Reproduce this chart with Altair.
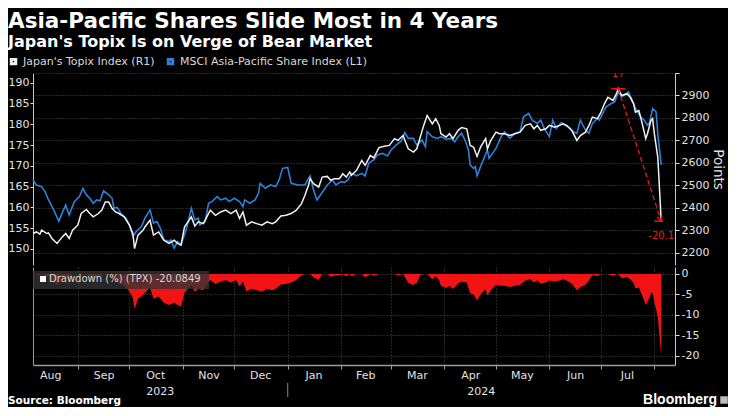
import altair as alt
import pandas as pd

# ---------------- data ----------------
BASE = pd.Timestamp("2023-08-01")          # day offsets below count from this date

# Japan's Topix Index (right axis, points)
tpx_day = [5, 7, 9, 10, 13, 14, 16, 19, 22, 24,
           26, 28, 31, 33, 36, 38, 40, 43, 45, 47,
           49, 51, 53, 55, 58, 61, 63, 64, 66, 69,
           70, 73, 75, 78, 81, 84, 87, 89, 91, 93,
           97, 99, 101, 104, 106, 108, 111, 114, 117, 120,
           123, 125, 127, 129, 132, 135, 138, 141, 144, 146,
           149, 152, 155, 158, 161, 163, 165, 166, 168, 171,
           173, 176, 178, 180, 183, 185, 187, 189, 190, 193,
           196, 198, 201, 203, 206, 209, 212, 215, 217, 220,
           223, 226, 228, 230, 232, 234, 237, 239, 241, 242,
           245, 247, 249, 252, 254, 257, 259, 261, 263, 265,
           268, 269, 271, 274, 276, 279, 282, 285, 288, 291,
           294, 296, 298, 300, 303, 305, 308, 311, 313, 315,
           318, 321, 323, 326, 328, 330, 333, 335, 337, 339,
           342, 344, 345, 347, 350, 352, 354, 355, 357, 359,
           361, 362, 364, 365, 366, 368, 370]
tpx_val = [2286, 2293, 2283, 2301, 2286, 2289, 2264, 2242, 2271, 2286,
           2264, 2301, 2323, 2375, 2393, 2375, 2360, 2375, 2390, 2426,
           2426, 2397, 2382, 2375, 2360, 2323, 2286, 2219, 2279, 2301,
           2315, 2345, 2279, 2293, 2256, 2242, 2256, 2242, 2234, 2315,
           2360, 2319, 2338, 2330, 2360, 2390, 2367, 2382, 2390, 2375,
           2390, 2353, 2382, 2323, 2338, 2330, 2323, 2338, 2330, 2338,
           2364, 2367, 2375, 2390, 2419, 2456, 2500, 2530, 2508, 2493,
           2537, 2540, 2523, 2530, 2530, 2552, 2537, 2560, 2545, 2567,
           2611, 2589, 2634, 2623, 2668, 2674, 2678, 2708, 2700, 2722,
           2663, 2648, 2663, 2715, 2767, 2811, 2774, 2797, 2767, 2730,
           2715, 2730, 2708, 2745, 2757, 2752, 2678, 2670, 2629, 2670,
           2708, 2663, 2700, 2737, 2730, 2730, 2722, 2730, 2737, 2767,
           2774, 2752, 2767, 2745, 2752, 2767, 2759, 2767, 2774, 2767,
           2745, 2700, 2722, 2737, 2767, 2804, 2797, 2826, 2863, 2892,
           2878, 2908, 2930, 2900, 2908, 2892, 2863, 2826, 2833, 2774,
           2708, 2730, 2789, 2797, 2730, 2626, 2341]

# MSCI Asia-Pacific Share Index (left axis)
msci_day = [5, 7, 10, 12, 14, 15, 17, 20, 22, 24,
            26, 29, 32, 34, 36, 38, 40, 42, 44, 46,
            49, 51, 52, 54, 56, 59, 61, 63, 65, 68,
            70, 73, 75, 77, 79, 81, 84, 85, 87, 89,
            91, 94, 97, 99, 101, 102, 105, 107, 109, 112,
            114, 117, 119, 122, 125, 127, 128, 131, 134, 136,
            137, 140, 143, 146, 148, 150, 153, 155, 159, 163,
            165, 166, 168, 170, 172, 174, 176, 179, 181, 184,
            186, 188, 190, 193, 196, 198, 200, 203, 205, 208,
            211, 213, 216, 219, 221, 223, 226, 228, 231, 233,
            234, 237, 240, 242, 245, 248, 250, 252, 254, 256,
            258, 259, 261, 262, 263, 265, 267, 269, 270, 272,
            274, 277, 279, 282, 285, 288, 290, 293, 295, 298,
            300, 302, 305, 307, 309, 312, 314, 316, 319, 321,
            323, 326, 328, 330, 333, 334, 336, 338, 341, 343,
            345, 347, 349, 351, 353, 355, 358, 360, 362, 363,
            364, 365, 367, 368, 370]
msci_val = [166.6, 165.4, 165.0, 163.8, 161.8, 161.1, 159.4, 156.7, 158.7, 160.6,
            158.2, 161.4, 162.6, 164.6, 163.0, 162.2, 161.0, 161.8, 161.6, 164.0,
            163.0, 162.2, 159.8, 160.0, 158.6, 157.4, 155.8, 153.0, 154.2, 155.4,
            157.4, 159.4, 156.2, 156.6, 155.0, 152.2, 151.8, 152.2, 150.2, 151.8,
            151.0, 154.6, 159.8, 157.0, 157.4, 155.8, 156.6, 161.0, 161.4, 162.6,
            161.8, 162.2, 161.4, 162.2, 161.4, 160.2, 161.8, 161.0, 161.8, 163.4,
            165.8, 164.6, 165.4, 165.0, 166.6, 169.4, 169.6, 165.8, 165.4, 165.4,
            167.0, 167.6, 164.2, 161.8, 163.0, 164.2, 165.4, 166.6, 165.4, 166.2,
            166.0, 166.6, 168.2, 167.6, 168.2, 167.6, 170.6, 171.4, 172.6, 173.0,
            172.4, 173.8, 175.0, 176.0, 178.0, 176.6, 176.6, 175.0, 176.2, 174.6,
            178.2, 177.0, 176.6, 177.0, 176.4, 176.6, 175.8, 177.0, 177.8, 176.2,
            173.8, 170.2, 169.4, 169.8, 167.6, 169.8, 171.8, 173.8, 171.8, 173.0,
            174.2, 177.0, 178.2, 176.6, 177.8, 178.2, 181.8, 182.6, 181.0, 180.2,
            181.0, 179.0, 177.0, 181.0, 179.0, 180.4, 179.8, 179.4, 178.2, 177.8,
            181.0, 178.6, 177.8, 180.2, 181.4, 181.0, 182.6, 184.2, 185.0, 185.4,
            187.8, 186.6, 187.0, 187.8, 185.8, 183.8, 181.8, 181.0, 179.8, 180.2,
            181.8, 183.8, 183.0, 177.8, 170.2]

TPX_NAME = "Japan's Topix Index (R1)"
MSCI_NAME = "MSCI Asia-Pacific Share Index (L1)"
DD_LABEL = "Drawdown (%) (TPX) -20.0849"
PEAK_LABEL = "17"

month_starts = ["2023-09-01", "2023-10-01", "2023-11-01", "2023-12-01", "2024-01-01",
                "2024-02-01", "2024-03-01", "2024-04-01", "2024-05-01", "2024-06-01",
                "2024-07-01", "2024-08-01"]
month_mids = ["2023-08-16", "2023-09-16", "2023-10-16", "2023-11-16", "2023-12-16",
              "2024-01-16", "2024-02-15", "2024-03-16", "2024-04-16", "2024-05-16",
              "2024-06-16", "2024-07-16"]
years = ["2023", "2024"]
left_ticks = [150, 155, 160, 165, 170, 175, 180, 185, 190]
right_ticks = [2200, 2300, 2400, 2500, 2600, 2700, 2800, 2900, 3000]
dd_ticks = [0, -5, -10, -15, -20]

X0, X1 = pd.Timestamp("2023-08-06"), pd.Timestamp("2024-08-13")
YEAR_BREAK = pd.Timestamp("2024-01-01")

# ---------------- styling ----------------
W, H1, H2 = 642, 192, 98
RED = "#f21414"
BLUE = "#2f80d8"
WHITE = "#f2f2f2"
LBL = "#e2e2e2"
GRID = "#4f4f4f"
FONT = "DejaVu Sans"


def dt(s):
    t = pd.Timestamp(s)
    return alt.DateTime(year=t.year, month=t.month, date=t.day)


tpx = pd.DataFrame({"date": [BASE + pd.Timedelta(days=d) for d in tpx_day],
                    "v": tpx_val, "series": TPX_NAME})
msci = pd.DataFrame({"date": [BASE + pd.Timedelta(days=d) for d in msci_day],
                     "v": msci_val, "series": MSCI_NAME})

xscale = alt.Scale(domain=[dt(X0), dt(X1)])
color_scale = alt.Scale(domain=[TPX_NAME, MSCI_NAME], range=[WHITE, BLUE])
legend = alt.Legend(orient="none", legendX=-25, legendY=-17, direction="horizontal",
                    title=None, symbolType="square", symbolSize=20, symbolStrokeWidth=3,
                    labelColor="#d9d9d9", labelFont=FONT, labelFontSize=11, labelLimit=400,
                    columnPadding=7, labelOffset=4, padding=0)
ms_dt = [dt(s) for s in month_starts]
mid_dt = [dt(s) for s in month_mids]


def tpx_y(field, axis=None):
    # every Topix-based layer gets the same explicit domain, so they line up exactly
    return alt.Y(field, scale=alt.Scale(domain=[2146, 3000], nice=False, zero=False), axis=axis)


# ---------------- top panel ----------------
blue = alt.Chart(msci).mark_line(strokeWidth=1.6).encode(
    x=alt.X("date:T", scale=xscale,
            axis=alt.Axis(values=ms_dt, grid=True, labels=False, ticks=False, domain=True,
                          domainColor="#8f8f8f", domainWidth=2.5, title=None)),
    y=alt.Y("v:Q", scale=alt.Scale(domain=[146.15, 192.33], nice=False, zero=False),
            axis=alt.Axis(orient="left", values=left_ticks, grid=False, tickSize=3,
                          labelPadding=1, title=None, domainColor="#c8c8c8",
                          tickColor="#e0e0e0")),
    color=alt.Color("series:N", scale=color_scale, legend=legend),
)

white = alt.Chart(tpx).mark_line(strokeWidth=1.5).encode(
    x=alt.X("date:T", scale=xscale, axis=None),
    y=tpx_y("v:Q", alt.Axis(orient="right", values=right_ticks, grid=True, tickSize=4,
                            labelPadding=2,
                            labelExpr="datum.value >= 3000 ? '' : '' + datum.value",
                            title="Points", titleFontSize=13.5, titlePadding=2,
                            domainColor="#c8c8c8", tickColor="#e0e0e0")),
    color=alt.Color("series:N", scale=color_scale, legend=legend),
)

peak_i = tpx_val.index(max(tpx_val))
peak_date, peak_v = tpx["date"].iloc[peak_i], tpx_val[peak_i]
tr_date, tr_v = tpx["date"].iloc[-1], tpx_val[-1]
dd_text = f"{(tr_v / peak_v - 1) * 100:.1f}"
ann = pd.DataFrame({"d0": [peak_date], "v0": [peak_v], "d1": [tr_date], "v1": [tr_v],
                    "pa": [peak_date - pd.Timedelta(days=4)], "pb": [peak_date + pd.Timedelta(days=4)],
                    "ta": [tr_date - pd.Timedelta(days=4)], "tb": [tr_date + pd.Timedelta(days=1)],
                    "plabel": [PEAK_LABEL], "tlabel": [dd_text]})
base_ann = alt.Chart(ann)
arrow = base_ann.mark_rule(color=RED, strokeWidth=1.3, strokeDash=[5, 3]).encode(
    x=alt.X("d0:T", scale=xscale, axis=None), y=tpx_y("v0:Q"), x2="d1:T", y2="v1:Q")
cap_peak = base_ann.mark_rule(color=RED, strokeWidth=1.5).encode(
    x=alt.X("pa:T", scale=xscale, axis=None), x2="pb:T", y=tpx_y("v0:Q"))
cap_tr = base_ann.mark_rule(color=RED, strokeWidth=1.5).encode(
    x=alt.X("ta:T", scale=xscale, axis=None), x2="tb:T", y=tpx_y("v1:Q"))
head = base_ann.mark_point(shape="M-0.7,-1.5L0,0L0.7,-1.5", filled=False, color=RED,
                           strokeWidth=1.3, size=50, angle=342, opacity=1).encode(
    x=alt.X("d1:T", scale=xscale, axis=None), y=tpx_y("v1:Q"))
plab = base_ann.mark_text(color=RED, font=FONT, fontSize=10, dy=-12, baseline="alphabetic",
                          clip=True).encode(
    x=alt.X("d0:T", scale=xscale, axis=None), y=tpx_y("v0:Q"), text="plabel:N")
tlab = base_ann.mark_text(color=RED, font=FONT, fontSize=10, dy=18, baseline="alphabetic").encode(
    x=alt.X("d1:T", scale=xscale, axis=None), y=tpx_y("v1:Q"), text="tlabel:N")

top = alt.layer(blue, white, arrow, cap_peak, cap_tr, head, plab, tlab).resolve_scale(
    y="independent").properties(width=W, height=H1)

# ---------------- bottom panel ----------------
dd_scale = alt.Scale(domain=[-22.2, 1.7], nice=False, zero=False)
area = alt.Chart(tpx).transform_window(
    peak="max(v)", frame=[None, 0], sort=[alt.SortField("date", order="ascending")]
).transform_calculate(dd="(datum.v / datum.peak - 1) * 100").mark_area(color=RED).encode(
    x=alt.X("date:T", scale=xscale,
            axis=alt.Axis(values=ms_dt, grid=True, labels=False, ticks=True, tickSize=4,
                          tickColor="#9a9a9a", domainColor="#9a9a9a", domainWidth=1.5,
                          title=None, orient="bottom")),
    y=alt.Y("dd:Q", scale=dd_scale,
            axis=alt.Axis(orient="right", values=dd_ticks, grid=True, tickSize=4, labelPadding=2,
                          labelExpr="'' + datum.value", title=None, domainColor="#c8c8c8",
                          tickColor="#e0e0e0")),
    y2=alt.datum(0),
)

mid_df = pd.DataFrame({"date": [pd.Timestamp(s) for s in month_mids], "z": 0})
mlabels = alt.Chart(mid_df).mark_point(opacity=0).encode(
    x=alt.X("date:T", scale=xscale,
            axis=alt.Axis(values=mid_dt, format="%b", ticks=False, grid=False, domain=False,
                          labelPadding=4, labelFlush=False, title=None, orient="bottom")),
    y=alt.Y("z:Q", scale=dd_scale,
            axis=alt.Axis(orient="left", labels=False, ticks=False, grid=False, domain=True,
                          domainColor="#9a9a9a", title=None)),
)

year_df = pd.DataFrame({"date": [X0 + (YEAR_BREAK - X0) / 2, YEAR_BREAK + (X1 - YEAR_BREAK) / 2],
                        "label": years})
ylab = alt.Chart(year_df).mark_text(font=FONT, fontSize=11, color=LBL, baseline="middle").encode(
    x=alt.X("date:T", scale=xscale, axis=None), y=alt.value(H2 + 27), text="label:N")
ysep = alt.Chart(pd.DataFrame({"date": [YEAR_BREAK]})).mark_rule(color="#8a8a8a").encode(
    x=alt.X("date:T", scale=xscale, axis=None), y=alt.value(H2 + 18), y2=alt.value(H2 + 32))

lab_df = pd.DataFrame({"t": [DD_LABEL]})
box = alt.Chart(lab_df).mark_rect(color="#333333", opacity=0.78).encode(
    x=alt.value(0), x2=alt.value(176), y=alt.value(4), y2=alt.value(22))
sq = alt.Chart(lab_df).mark_square(color="white", size=36, opacity=1).encode(
    x=alt.value(10), y=alt.value(12))
ddtxt = alt.Chart(lab_df).mark_text(align="left", baseline="middle", font=FONT, fontSize=10,
                                    color="#d9d9d9").encode(
    x=alt.value(16), y=alt.value(12), text="t:N")

src = alt.Chart(pd.DataFrame({"t": ["Source: Bloomberg"]})).mark_text(
    align="left", baseline="middle", font=FONT, fontSize=10.5, fontWeight="bold", color="white"
).encode(x=alt.value(-25), y=alt.value(H2 + 36), text="t:N")
logo = alt.Chart(pd.DataFrame({"t": ["Bloomberg"]})).mark_text(
    align="right", baseline="middle", font="Liberation Sans", fontSize=14, fontWeight="bold",
    color="white"
).encode(x=alt.value(W + 42), y=alt.value(H2 + 35), text="t:N")
icon = alt.Chart(pd.DataFrame({"t": ["i"]})).mark_square(color="#bdbdbd", size=56, opacity=1).encode(
    x=alt.value(W + 49), y=alt.value(H2 + 35))

bottom = alt.layer(area, mlabels, ylab, ysep, box, sq, ddtxt, src, logo, icon).resolve_axis(
    x="independent", y="independent").properties(width=W, height=H2)

chart = alt.vconcat(top, bottom, spacing=2).properties(
    title=alt.TitleParams(
        text="Asia-Pacific Shares Slide Most in 4 Years",
        subtitle="Japan's Topix Is on Verge of Bear Market",
        anchor="start", frame="bounds", font=FONT, fontSize=21.5, fontWeight="bold",
        color="white", subtitleFont=FONT, subtitleFontSize=16, subtitleFontWeight="bold",
        subtitleColor="white", subtitlePadding=2, offset=6),
    padding={"left": 0, "top": 2, "right": 0, "bottom": 0},
    background="#000000",
).configure_view(stroke=None).configure_axis(
    labelFont=FONT, labelFontSize=11, labelColor=LBL, titleFont=FONT, titleColor=LBL,
    titleFontWeight="normal", gridColor=GRID, gridDash=[1, 2], gridWidth=1,
)

chart.save("out.html", embed_options={"renderer": "svg", "actions": False})
